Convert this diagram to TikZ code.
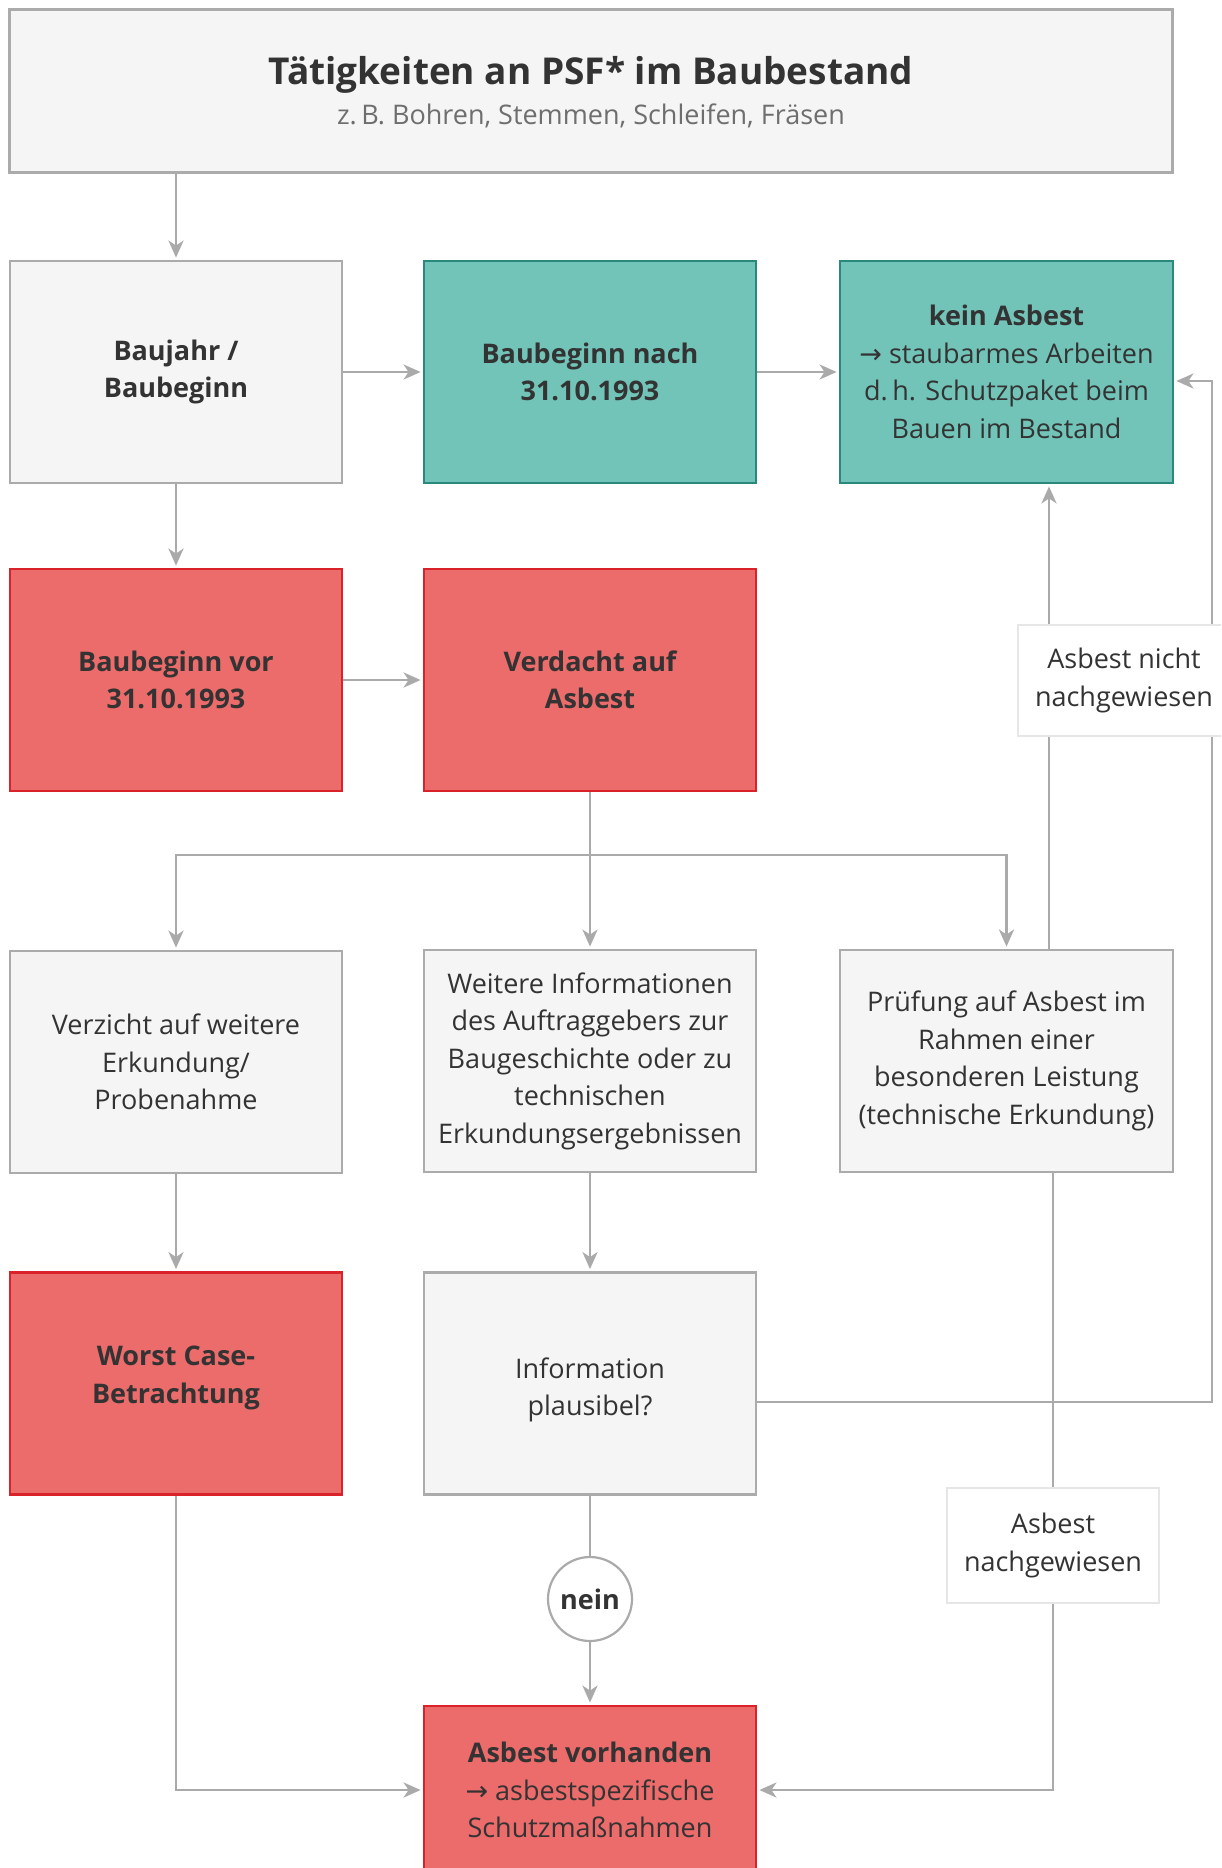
\documentclass[tikz,border=0pt]{standalone}
\usepackage{fontspec}
\setmainfont{Open Sans}
\newfontfamily\arrowfont{DejaVu Sans}[Scale=1.0]
\usetikzlibrary{arrows.meta}
\definecolor{grayF}{HTML}{F5F5F5}
\definecolor{grayB}{HTML}{ABABAB}
\definecolor{tealF}{HTML}{72C4B9}
\definecolor{tealB}{HTML}{2A887D}
\definecolor{redF}{HTML}{EC6B6B}
\definecolor{redB}{HTML}{D9222A}
\definecolor{txt}{HTML}{333333}
\definecolor{subtxt}{HTML}{6E6E6E}
\definecolor{lineC}{HTML}{AAAAAA}
\definecolor{labB}{HTML}{E6E6E6}
\newcommand{\bodyfont}{\fontsize{27}{37.5}\selectfont}
\newcommand{\rarr}{{\arrowfont →}}
\tikzset{
  box/.style={draw=grayB, fill=grayF, line width=2.8pt, minimum width=332pt, minimum height=222pt,
    inner sep=0pt, align=center, text=txt, font=\bodyfont},
  tealbox/.style={box, draw=tealB, fill=tealF},
  redbox/.style={box, draw=redB, fill=redF},
  lab/.style={draw=labB, fill=white, line width=1.2pt, inner sep=0pt, align=center, text=txt, font=\bodyfont},
  boxtext/.style={inner sep=0pt, align=center, text=txt, font=\bodyfont},
  conn/.style={draw=lineC, line width=2.8pt},
  arr/.style={conn, -{Stealth[length=17pt,width=15pt,inset=5pt]}, shorten >=2pt},
}
\begin{document}
\begin{tikzpicture}[x=1pt,y=-1pt]
\useasboundingbox (0,0) rectangle (1221,1868);
\clip (0,0) rectangle (1221,1868);
\fill[white] (0,0) rectangle (1221,1868);

% header
\node[box, minimum width=1163pt, minimum height=163pt] (top) at (591,91) {};
\node[text=txt, font=\fontsize{37}{44}\selectfont\bfseries] (title) at (591,75) {Tätigkeiten an PSF* im Baubestand};
\node[text=subtxt, font=\fontsize{27}{34}\selectfont] (subtitle) at (591,116) {z.\,B. Bohren, Stemmen, Schleifen, Fräsen};

% row 1
\node[box] (b1) at (176,372) {\bfseries Baujahr /\\\bfseries Baubeginn};
\node[tealbox] (nach) at (590,372) {\bfseries Baubeginn nach\\\bfseries 31.10.1993};
\node[tealbox, minimum width=333pt] (kein) at (1006.5,372) {\bfseries kein Asbest\\\rarr\ staubarmes Arbeiten\\d.\,h. Schutzpaket beim\\Bauen im Bestand};

% row 2
\node[redbox] (vor) at (176,680) {\bfseries Baubeginn vor\\\bfseries 31.10.1993};
\node[redbox] (verd) at (590,680) {\bfseries Verdacht auf\\\bfseries Asbest};

% row 3
\node[box] (verz) at (176,1062) {Verzicht auf weitere\\Erkundung/\\Probenahme};
\node[box] (weit) at (590,1061) {Weitere Informationen\\des Auftraggebers zur\\Baugeschichte oder zu\\technischen\\Erkundungsergebnissen};
\node[box, minimum width=333pt] (pruef) at (1006.5,1061) {Prüfung auf Asbest im\\Rahmen einer\\besonderen Leistung\\(technische Erkundung)};

% row 4
\node[redbox] (worst) at (176,1383.5) {};
\node[boxtext, font=\bodyfont\bfseries] (worsttxt) at (176,1378) {Worst Case-\\Betrachtung};
\node[box] (info) at (590,1383.5) {};
\node[boxtext] (infotxt) at (590,1390) {Information\\plausibel?};

% nein + bottom
\node[circle, draw=lineC, line width=2.2pt, fill=white, minimum size=84pt, inner sep=0pt, text=txt, font=\bodyfont\bfseries] (nein) at (590,1599) {nein};
\node[redbox, minimum height=168pt] (vorh) at (590,1790) {\bfseries Asbest vorhanden\\\rarr\ asbestspezifische\\Schutzmaßnahmen};

% coordinates
\coordinate (br) at (590,855);
\coordinate (rc1) at (1212,1402);
\coordinate (rc2) at (1212,381);

% connectors
\draw[arr] (b1|-top.south) -- (b1.north);
\draw[arr] (b1.east) -- (nach.west);
\draw[arr] (nach.east) -- (kein.west);
\draw[arr] (b1.south) -- (vor.north);
\draw[arr] (vor.east) -- (verd.west);
\draw[conn] (verd.south) -- (br);
\draw[arr] (br) -| (verz.north);
\draw[arr] (br) -| (pruef.north);
\draw[arr] (br) -- (weit.north);
\draw[arr] ([xshift=42.5pt]pruef.north) -- ([xshift=42.5pt]kein.south);
\draw[arr] (info.east|-rc1) -- (rc1) -- (rc2) -- (kein.east|-rc2);
\draw[arr] (verz.south) -- (worst.north);
\draw[arr] (weit.south) -- (info.north);
\draw[conn] (info.south) -- (nein.north);
\draw[arr] (nein.south) -- (vorh.north);
\draw[arr] (worst.south) |- (vorh.west);
\draw[arr] ([xshift=46.5pt]pruef.south) |- (vorh.east);

% labels on the lines
\node[lab, minimum width=212pt, minimum height=111pt] (lab1) at (1124,680.5) {Asbest nicht\\nachgewiesen};
\node[lab, minimum width=212pt, minimum height=115pt] (lab2) at (1053,1545.5) {Asbest\\nachgewiesen};
\end{tikzpicture}
\end{document}
